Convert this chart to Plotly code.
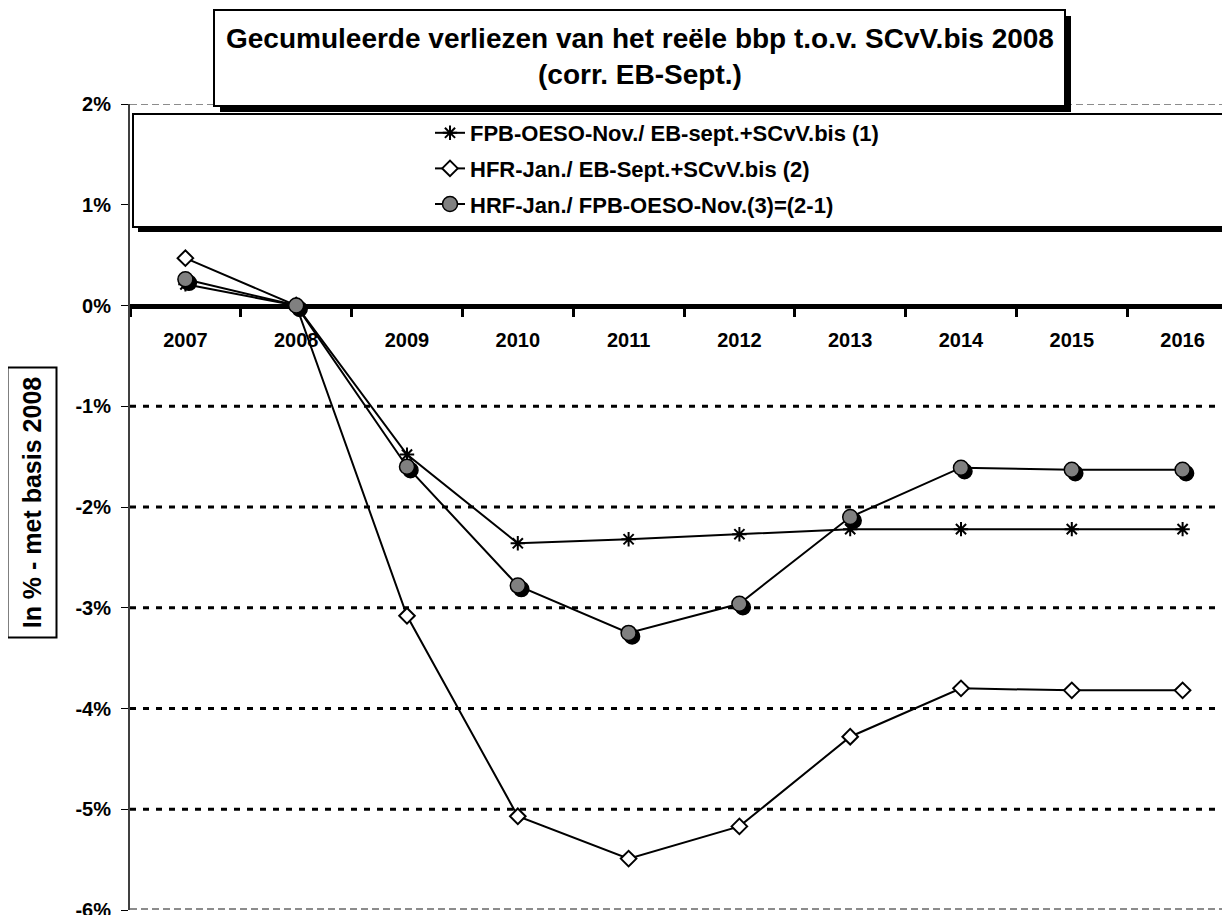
import plotly.graph_objects as go

YEARS = ["2007", "2008", "2009", "2010", "2011", "2012", "2013", "2014", "2015", "2016"]
FPB_OESO = [0.21, 0.0, -1.48, -2.36, -2.32, -2.27, -2.22, -2.22, -2.22, -2.22]
HFR_JAN = [0.47, 0.0, -3.08, -5.07, -5.49, -5.17, -4.28, -3.80, -3.82, -3.82]
HRF_DIFF = [0.26, 0.0, -1.60, -2.78, -3.25, -2.96, -2.10, -1.61, -1.63, -1.63]
SERIES_NAMES = [
    "FPB-OESO-Nov./ EB-sept.+SCvV.bis (1)",
    "HFR-Jan./ EB-Sept.+SCvV.bis (2)",
    "HRF-Jan./ FPB-OESO-Nov.(3)=(2-1)",
]
Y_TICKS = [2, 1, 0, -1, -2, -3, -4, -5, -6]
Y_TICK_LABELS = ["2%", "1%", "0%", "-1%", "-2%", "-3%", "-4%", "-5%", "-6%"]
GRID_LEVELS = [-1, -2, -3, -4, -5]
TITLE_LINES = ["Gecumuleerde verliezen van het reële bbp t.o.v. SCvV.bis 2008", "(corr. EB-Sept.)"]
Y_TITLE = "In % - met basis 2008"

# page body has an 8px margin: work in screen pixels and convert
OFF = 8
W, H = 1230, 915
ML = 130 - OFF
MT = 104 - OFF
MB = H - (910 - OFF)
MR = 0
PW, PH = W - ML - MR, H - MT - MB
Y_RANGE = [-6, 2]
X_RANGE = [-0.5, 9.5]
FONT = "Liberation Sans, Arial, sans-serif"

x_idx = list(range(len(YEARS)))
px_per_x = PW / (X_RANGE[1] - X_RANGE[0])
px_per_y = PH / (Y_RANGE[1] - Y_RANGE[0])
shadow_px = 3.5


def sx(px):
    """screen x pixel -> paper x"""
    return (px - OFF - ML) / PW


def sy(py):
    """screen y pixel -> paper y"""
    return (H - MB - (py - OFF)) / PH


fig = go.Figure()

fig.add_trace(go.Scatter(
    x=x_idx, y=FPB_OESO, name="<b>" + SERIES_NAMES[0] + "</b>", mode="lines+markers",
    line=dict(color="black", width=2),
    marker=dict(symbol="asterisk-open", size=12, color="black", line=dict(color="black", width=2)),
    legendgroup="a",
))
fig.add_trace(go.Scatter(
    x=x_idx, y=HFR_JAN, name="<b>" + SERIES_NAMES[1] + "</b>", mode="lines+markers",
    line=dict(color="black", width=2),
    marker=dict(symbol="diamond", size=12, color="white", line=dict(color="black", width=2)),
    legendgroup="b",
))
fig.add_trace(go.Scatter(
    x=[v + shadow_px / px_per_x for v in x_idx],
    y=[v - shadow_px / px_per_y for v in HRF_DIFF],
    mode="markers", showlegend=False, hoverinfo="skip",
    marker=dict(symbol="circle", size=15, color="black", line=dict(color="black", width=1.5)),
))
fig.add_trace(go.Scatter(
    x=x_idx, y=HRF_DIFF, name="<b>" + SERIES_NAMES[2] + "</b>", mode="lines+markers",
    line=dict(color="black", width=2),
    marker=dict(symbol="circle", size=15, color="#808080", line=dict(color="black", width=1.5)),
    legendgroup="c",
))

shapes = []
for g in GRID_LEVELS:
    shapes.append(dict(type="line", xref="paper", yref="y", x0=0, x1=1, y0=g, y1=g,
                       line=dict(color="black", width=3, dash="6px,7px"), layer="below"))
shapes.append(dict(type="line", xref="paper", yref="y", x0=0, x1=1, y0=Y_RANGE[1], y1=Y_RANGE[1],
                   line=dict(color="#8c8c8c", width=2, dash="7px,4px"), layer="below"))
shapes.append(dict(type="line", xref="paper", yref="y", x0=0, x1=1, y0=Y_RANGE[0], y1=Y_RANGE[0],
                   line=dict(color="#8c8c8c", width=4, dash="7px,4px"), layer="below"))

# title box with shadow (screen pixels)
tb = (214, 10, 1065, 106)
shapes.append(dict(type="rect", xref="paper", yref="paper",
                   x0=sx(tb[0] + 6), x1=sx(tb[2] + 6), y0=sy(tb[3] + 6), y1=sy(tb[1] + 6),
                   fillcolor="black", line=dict(width=0), layer="above"))
shapes.append(dict(type="rect", xref="paper", yref="paper",
                   x0=sx(tb[0]), x1=sx(tb[2]), y0=sy(tb[3]), y1=sy(tb[1]),
                   fillcolor="white", line=dict(color="black", width=2), layer="above"))
# legend box with shadow
lb = (133, 114, 1250, 227)
shapes.append(dict(type="rect", xref="paper", yref="paper",
                   x0=sx(lb[0] + 5), x1=sx(lb[2] + 5), y0=sy(lb[3] + 5), y1=sy(lb[1] + 5),
                   fillcolor="black", line=dict(width=0), layer="above"))
shapes.append(dict(type="rect", xref="paper", yref="paper",
                   x0=sx(lb[0]), x1=sx(lb[2]), y0=sy(lb[3]), y1=sy(lb[1]),
                   fillcolor="white", line=dict(color="black", width=2), layer="above"))

annotations = [
    dict(text="<br>".join("<b>" + t + "</b>" for t in TITLE_LINES), xref="paper", yref="paper",
         x=sx((tb[0] + tb[2]) / 2), y=sy((tb[1] + tb[3]) / 2 - 1),
         xanchor="center", yanchor="middle", showarrow=False,
         font=dict(family=FONT, size=28, color="black")),
    dict(text="<b>" + Y_TITLE + "</b>", xref="paper", yref="paper",
         x=sx(32.5), y=sy(503), xanchor="center", yanchor="middle",
         showarrow=False, textangle=-90, bgcolor="white", bordercolor="black", borderwidth=2,
         borderpad=3, width=262, height=41, font=dict(family=FONT, size=25, color="black")),
]

fig.update_layout(
    width=W, height=H,
    margin=dict(l=ML, r=MR, t=MT, b=MB),
    paper_bgcolor="white", plot_bgcolor="white",
    font=dict(family=FONT, color="black"),
    shapes=shapes, annotations=annotations,
    showlegend=True,
    legend=dict(x=sx(430), y=sy(112), xanchor="left", yanchor="top",
                bgcolor="rgba(0,0,0,0)", borderwidth=0, traceorder="grouped", tracegroupgap=4,
                font=dict(family=FONT, size=22, color="black")),
    xaxis=dict(range=X_RANGE, tickmode="array", tickvals=x_idx,
               ticktext=["<b>" + y + "</b>" for y in YEARS],
               anchor="free", position=(0 - Y_RANGE[0]) / (Y_RANGE[1] - Y_RANGE[0]),
               showline=True, linecolor="black", linewidth=5, layer="below traces",
               ticks="outside", ticklen=14, tickcolor="rgba(0,0,0,0)",
               minor=dict(tick0=-0.5, dtick=1, ticks="outside", ticklen=8, tickwidth=3, tickcolor="black"),
               showgrid=False, zeroline=False, tickfont=dict(family=FONT, size=20, color="black")),
    yaxis=dict(range=Y_RANGE, tickmode="array", tickvals=Y_TICKS,
               ticktext=["<b>" + t + "</b>" for t in Y_TICK_LABELS],
               showline=True, linecolor="#404040", linewidth=2,
               ticks="outside", ticklen=7, tickwidth=1, tickcolor="black", ticklabelstandoff=6,
               showgrid=False, zeroline=False, tickfont=dict(family=FONT, size=20, color="black")),
)

fig.write_html("out.html")
